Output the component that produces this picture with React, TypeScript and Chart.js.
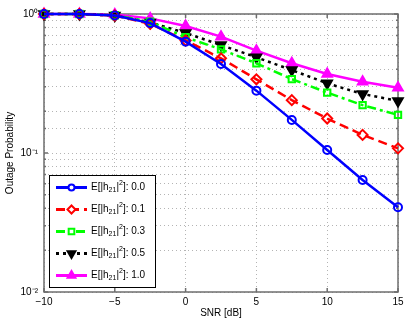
import React, { useEffect, useRef } from 'react';
import { Chart, registerables } from 'chart.js';
import { drawPoint } from 'chart.js/helpers';

Chart.register(...registerables);

const snrDb = [-10, -7.5, -5, -2.5, 0, 2.5, 5, 7.5, 10, 12.5, 15];
const outageH00 = [1.0, 1.0, 0.975, 0.86, 0.632, 0.437, 0.281, 0.173, 0.105, 0.064, 0.0407];
const outageH01 = [1.0, 1.0, 0.975, 0.85, 0.645, 0.48, 0.339, 0.24, 0.177, 0.135, 0.108];
const outageH03 = [1.0, 1.0, 0.98, 0.88, 0.68, 0.557, 0.442, 0.34, 0.272, 0.221, 0.188];
const outageH05 = [1.0, 1.0, 0.975, 0.87, 0.73, 0.598, 0.488, 0.395, 0.317, 0.266, 0.237];
const outageH10 = [1.0, 1.0, 0.99, 0.93, 0.82, 0.687, 0.545, 0.442, 0.37, 0.326, 0.295];

const gainValues = ['0.0', '0.1', '0.3', '0.5', '1.0'];
const seriesLabels = gainValues.map((g) => `E[|h\u2082\u2081|\u00b2]: ${g}`);
const xTickStep = 5;
const yPowerLabels: Record<string, string> = { '0': '10\u2070', '-1': '10\u207b\u00b9', '-2': '10\u207b\u00b2' };
const xTitle = 'SNR [dB]';
const yTitle = 'Outage Probability';

const FONT = "'Liberation Sans', Arial, Helvetica, sans-serif";

type Style = {
  color: string;
  dash: number[];
  pointStyle: string;
  radius: number;
  legendRadius: number;
  rotation: number;
  filled: boolean;
};

const styles: Style[] = [
  { color: '#0000ff', dash: [], pointStyle: 'circle', radius: 4, legendRadius: 3, rotation: 0, filled: false },
  { color: '#ff0000', dash: [9, 5], pointStyle: 'rectRot', radius: 5, legendRadius: 4, rotation: 0, filled: false },
  { color: '#00ff00', dash: [9, 4, 3, 4], pointStyle: 'rect', radius: 4.5, legendRadius: 4, rotation: 0, filled: false },
  { color: '#000000', dash: [3, 4], pointStyle: 'triangle', radius: 5.5, legendRadius: 4.5, rotation: 180, filled: true },
  { color: '#ff00ff', dash: [], pointStyle: 'triangle', radius: 5.5, legendRadius: 4.5, rotation: 0, filled: true },
];

const seriesValues = [outageH00, outageH01, outageH03, outageH05, outageH10];

const boxPlugin = {
  id: 'matlabBox',
  beforeDatasetsDraw(chart: any) {
    const { ctx, chartArea } = chart;
    const { left, right, top, bottom } = chartArea;
    ctx.save();
    ctx.strokeStyle = '#6e6e6e';
    ctx.lineWidth = 1.5;
    ctx.setLineDash([]);
    ctx.strokeRect(left, top, right - left, bottom - top);
    const xs = chart.scales.x;
    xs.ticks.forEach((t: any) => {
      const px = xs.getPixelForValue(t.value);
      ctx.beginPath();
      ctx.moveTo(px, bottom);
      ctx.lineTo(px, bottom - 4);
      ctx.moveTo(px, top);
      ctx.lineTo(px, top + 4);
      ctx.stroke();
    });
    const ys = chart.scales.y;
    ys.ticks.forEach((t: any) => {
      const py = ys.getPixelForValue(t.value);
      const l = Math.log10(t.value);
      const major = Math.abs(l - Math.round(l)) < 1e-9;
      const len = major ? 4 : 2;
      ctx.beginPath();
      ctx.moveTo(left, py);
      ctx.lineTo(left + len, py);
      ctx.moveTo(right, py);
      ctx.lineTo(right - len, py);
      ctx.stroke();
    });
    ctx.restore();
  },
};

function drawRichLabel(ctx: CanvasRenderingContext2D, x: number, y: number, gain: string) {
  const parts: { t: string; size: number; dy: number }[] = [
    { t: 'E[|h', size: 10, dy: 0 },
    { t: '21', size: 7, dy: 3 },
    { t: '|', size: 10, dy: 0 },
    { t: '2', size: 7, dy: -4 },
    { t: `]: ${gain}`, size: 10, dy: 0 },
  ];
  let cx = x;
  parts.forEach((p) => {
    ctx.font = `${p.size}px ${FONT}`;
    ctx.fillText(p.t, cx, y + p.dy);
    cx += ctx.measureText(p.t).width;
  });
}

const legendPlugin = {
  id: 'matlabLegend',
  afterDraw(chart: any) {
    const { ctx, chartArea } = chart;
    const rowH = 22;
    const n = seriesLabels.length;
    const lx = chartArea.left + 5;
    const lw = 106;
    const lh = rowH * n + 2;
    const ly = chartArea.bottom - 5 - lh;
    ctx.save();
    ctx.fillStyle = '#ffffff';
    ctx.fillRect(lx, ly, lw, lh);
    ctx.strokeStyle = '#000000';
    ctx.lineWidth = 1;
    ctx.setLineDash([]);
    ctx.strokeRect(lx + 0.5, ly + 0.5, lw, lh);
    seriesLabels.forEach((_label, i) => {
      const s = styles[i];
      const cy = ly + 12.5 + i * rowH;
      ctx.strokeStyle = s.color;
      ctx.lineWidth = 3;
      ctx.setLineDash(s.dash);
      ctx.beginPath();
      ctx.moveTo(lx + 7, cy);
      ctx.lineTo(lx + 38, cy);
      ctx.stroke();
      ctx.setLineDash([]);
      ctx.fillStyle = s.filled ? s.color : '#ffffff';
      ctx.strokeStyle = s.color;
      ctx.lineWidth = 2;
      drawPoint(ctx, { pointStyle: s.pointStyle as any, radius: s.legendRadius, rotation: s.rotation, borderWidth: 2 }, lx + 22.5, cy);
      ctx.fillStyle = '#000000';
      ctx.textBaseline = 'middle';
      ctx.textAlign = 'left';
      drawRichLabel(ctx, lx + 42, cy, gainValues[i]);
    });
    ctx.restore();
  },
};

export default function App() {
  const canvasRef = useRef<HTMLCanvasElement | null>(null);

  useEffect(() => {
    document.body.style.margin = '0';
    const canvas = canvasRef.current;
    if (!canvas) return;
    const datasets = seriesValues.map((vals, i) => {
      const s = styles[i];
      return {
        label: seriesLabels[i],
        data: snrDb.map((x, j) => ({ x, y: vals[j] })),
        borderColor: s.color,
        backgroundColor: s.filled ? s.color : 'rgba(255,255,255,0)',
        borderWidth: 2.5,
        borderDash: s.dash,
        pointStyle: s.pointStyle,
        pointRadius: s.radius,
        pointRotation: s.rotation,
        pointBorderWidth: 2,
        pointBorderColor: s.color,
        pointBackgroundColor: s.filled ? s.color : 'rgba(255,255,255,0)',
        tension: 0,
        clip: false,
      };
    });
    const chart = new Chart(canvas, {
      type: 'line',
      data: { datasets: datasets as any },
      plugins: [boxPlugin, legendPlugin],
      options: {
        animation: false,
        responsive: true,
        maintainAspectRatio: false,
        layout: { padding: { left: 0, right: 13, top: 14, bottom: 0 } },
        plugins: { legend: { display: false }, tooltip: { enabled: false } },
        scales: {
          x: {
            type: 'linear',
            min: -10,
            max: 15,
            afterFit(scale: any) {
              scale.height = 32;
            },
            ticks: {
              stepSize: xTickStep,
              padding: 4,
              color: '#000',
              font: { family: FONT, size: 10 },
              callback: (v: any) => (v < 0 ? '\u2212' + Math.abs(v) : String(v)),
            },
            grid: { color: '#b4b4b4', lineWidth: 1, drawTicks: false },
            border: { display: false, dash: [1, 3] },
            title: {
              display: true,
              text: xTitle,
              color: '#000',
              font: { family: FONT, size: 10 },
              padding: { top: 0, bottom: 5 },
            },
          },
          y: {
            type: 'logarithmic',
            min: 0.01,
            max: 1,
            afterFit(scale: any) {
              scale.width = 44;
            },
            ticks: {
              autoSkip: false,
              padding: 6,
              color: '#000',
              font: { family: FONT, size: 10 },
              callback: (v: any) => {
                const l = Math.log10(Number(v));
                const r = Math.round(l);
                if (Math.abs(l - r) < 1e-9) return yPowerLabels[String(r)] ?? '';
                return '';
              },
            },
            grid: { color: '#b4b4b4', lineWidth: 1, drawTicks: false },
            border: { display: false, dash: [1, 3] },
            title: {
              display: true,
              text: yTitle,
              color: '#000',
              font: { family: FONT, size: 10 },
              padding: { top: 4, bottom: 0 },
            },
          },
        },
      },
    });
    return () => chart.destroy();
  }, []);

  return (
    <div style={{ position: 'relative', width: 411, height: 324 }}>
      <canvas ref={canvasRef} />
    </div>
  );
}
